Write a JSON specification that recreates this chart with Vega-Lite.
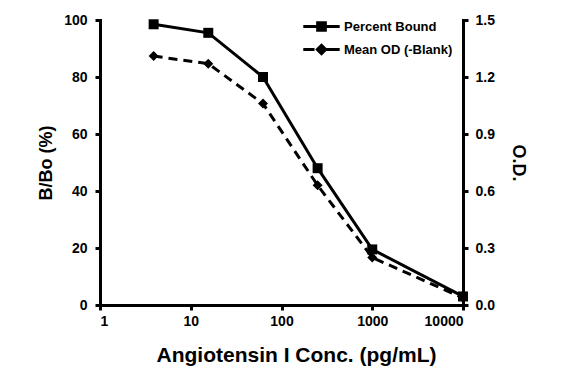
{
  "$schema": "https://vega.github.io/schema/vega-lite/v6.json",
  "width": 363,
  "height": 285,
  "autosize": {"type": "none"},
  "padding": {"left": 100, "top": 20, "right": 102, "bottom": 72},
  "background": "white",
  "config": {
    "view": {"stroke": null},
    "font": "Liberation Sans",
    "axis": {
      "domainColor": "black",
      "domainWidth": 3,
      "domainCap": "square",
      "tickColor": "black",
      "tickWidth": 3,
      "tickSize": 5,
      "labelFont": "Liberation Sans",
      "labelFontWeight": "bold",
      "labelFontSize": 14,
      "labelColor": "black",
      "titleFont": "Liberation Sans",
      "titleFontWeight": "bold",
      "titleColor": "black",
      "grid": false
    }
  },
  "data": {
    "values": [
      {"conc": 3.9, "series": "Percent Bound", "value": 98.5},
      {"conc": 15.6, "series": "Percent Bound", "value": 95.5},
      {"conc": 62.5, "series": "Percent Bound", "value": 80},
      {"conc": 250, "series": "Percent Bound", "value": 48},
      {"conc": 1000, "series": "Percent Bound", "value": 19.5},
      {"conc": 10000, "series": "Percent Bound", "value": 3},
      {"conc": 3.9, "series": "Mean OD (-Blank)", "value": 1.31},
      {"conc": 15.6, "series": "Mean OD (-Blank)", "value": 1.27},
      {"conc": 62.5, "series": "Mean OD (-Blank)", "value": 1.06},
      {"conc": 250, "series": "Mean OD (-Blank)", "value": 0.63},
      {"conc": 1000, "series": "Mean OD (-Blank)", "value": 0.25},
      {"conc": 10000, "series": "Mean OD (-Blank)", "value": 0.037}
    ]
  },
  "encoding": {
    "x": {
      "field": "conc",
      "type": "quantitative",
      "scale": {"type": "log", "domain": [1, 10000]},
      "axis": {
        "values": [1, 10, 100, 1000, 10000],
        "format": "d",
        "title": "Angiotensin I Conc. (pg/mL)",
        "titleFontSize": 21,
        "titleX": 196,
        "labelPadding": 4,
        "titlePadding": 16
      }
    }
  },
  "layer": [
    {
      "encoding": {
        "y": {
          "field": "value",
          "type": "quantitative",
          "scale": {"domain": [0, 100]},
          "axis": {
            "values": [0, 20, 40, 60, 80, 100],
            "title": "B/Bo (%)",
            "titleFontSize": 18,
            "titlePadding": 8,
            "labelPadding": 8
          }
        }
      },
      "layer": [
        {
          "transform": [{"filter": "datum.series === 'Percent Bound'"}],
          "mark": {"type": "line", "color": "black", "strokeWidth": 3}
        },
        {
          "transform": [{"filter": "datum.series === 'Percent Bound'"}],
          "mark": {"type": "point", "shape": "square", "filled": true, "color": "black", "size": 100, "opacity": 1}
        },
        {
          "mark": {"type": "point", "filled": false, "color": "black", "opacity": 0, "size": 196},
          "encoding": {
            "shape": {
              "field": "series",
              "type": "nominal",
              "scale": {
                "domain": ["Percent Bound", "Mean OD (-Blank)"],
                "range": [
                  "M-2.6,0H2.6M-0.55,-0.55H0.55V0.55H-0.55ZM-0.55,-0.25H0.55M-0.55,0.25H0.55",
                  "M-2.6,0H-1.0M0.6,0H2.6M0,-0.6L0.6,0L0,0.6L-0.6,0ZM-0.35,-0.25H0.35M-0.35,0.25H0.35M-0.6,0H0.6"
                ]
              },
              "legend": {
                "title": null,
                "orient": "none",
                "legendX": 213,
                "legendY": -2,
                "padding": 0,
                "labelFont": "Liberation Sans",
                "labelFontWeight": "bold",
                "labelFontSize": 13,
                "labelColor": "black",
                "labelOffset": 14,
                "symbolSize": 196,
                "symbolStrokeWidth": 3,
                "symbolStrokeColor": "black",
                "symbolOpacity": 1,
                "rowPadding": 2,
                "encode": {
                  "symbols": {
                    "update": {
                      "stroke": {"value": "black"},
                      "strokeWidth": {"value": 3},
                      "strokeOpacity": {"value": 1},
                      "opacity": {"value": 1}
                    }
                  }
                }
              }
            }
          }
        }
      ]
    },
    {
      "transform": [{"filter": "datum.series === 'Mean OD (-Blank)'"}],
      "encoding": {
        "y": {
          "field": "value",
          "type": "quantitative",
          "scale": {"domain": [0, 1.5]},
          "axis": {
            "orient": "right",
            "values": [0, 0.3, 0.6, 0.9, 1.2, 1.5],
            "format": ".1f",
            "title": "O.D.",
            "titleFontSize": 18,
            "titlePadding": 14,
            "labelPadding": 7
          }
        }
      },
      "layer": [
        {
          "mark": {"type": "line", "color": "black", "strokeWidth": 3, "strokeDash": [9, 6]}
        },
        {
          "mark": {"type": "point", "shape": "diamond", "filled": true, "color": "black", "size": 100, "opacity": 1}
        }
      ]
    }
  ],
  "resolve": {"scale": {"y": "independent"}}
}
